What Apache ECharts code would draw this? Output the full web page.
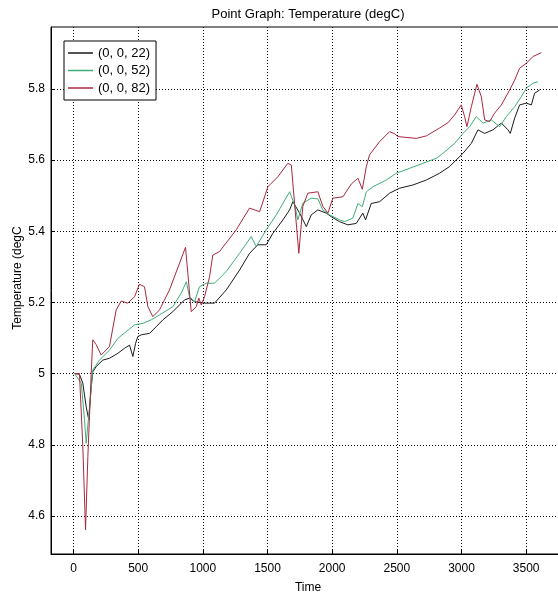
<!DOCTYPE html>
<html>
<head>
<meta charset="utf-8">
<script src="https://cdn.jsdelivr.net/npm/echarts@6/dist/echarts.min.js"></script>
<style>
  html, body { margin: 0; padding: 0; background: #fff; }
  #chart { width: 558px; height: 596px; }
</style>
</head>
<body>
<div id="chart"></div>
<script>
// Probe temperatures at three depths (z = 22, 52, 82) over time.
const seriesNames = ['(0, 0, 22)', '(0, 0, 52)', '(0, 0, 82)'];

const time22 = [8, 46, 72, 98, 118, 137, 149, 176, 227, 278, 343, 394, 433, 459, 480, 497, 524, 588, 640, 691,
  768, 858, 897, 936, 1013, 1090, 1181, 1284, 1361, 1425, 1490, 1541, 1619, 1671, 1696, 1748, 1800, 1838, 1889, 1954,
  1993, 2057, 2121, 2186, 2237, 2258, 2302, 2367, 2444, 2521, 2624, 2728, 2830, 2908, 3011, 3076, 3127, 3179, 3243, 3308,
  3359, 3377, 3411, 3449, 3501, 3540, 3565, 3604];
const temp22 = [5.000, 4.998, 4.973, 4.907, 4.870, 4.963, 5.005, 5.020, 5.038, 5.043, 5.057, 5.071, 5.080, 5.048, 5.085, 5.104, 5.109, 5.113, 5.132, 5.151,
  5.174, 5.207, 5.212, 5.202, 5.198, 5.198, 5.235, 5.291, 5.338, 5.362, 5.362, 5.394, 5.432, 5.460, 5.483, 5.451, 5.413, 5.446, 5.460, 5.451,
  5.441, 5.427, 5.418, 5.422, 5.451, 5.432, 5.478, 5.483, 5.507, 5.521, 5.530, 5.544, 5.563, 5.582, 5.619, 5.647, 5.685, 5.675, 5.685, 5.704,
  5.685, 5.675, 5.718, 5.755, 5.760, 5.755, 5.788, 5.797];

const time52 = [8, 60, 85, 98, 124, 149, 201, 278, 343, 408, 472, 536, 601, 665, 768, 833, 872, 897, 936, 974,
  1026, 1090, 1181, 1284, 1374, 1413, 1490, 1568, 1671, 1709, 1735, 1773, 1838, 1889, 1928, 1980, 2057, 2096, 2160, 2199,
  2233, 2264, 2315, 2418, 2496, 2599, 2701, 2805, 2856, 2947, 3011, 3063, 3114, 3166, 3230, 3295, 3346, 3411, 3462, 3501,
  3552, 3591];
const temp52 = [5.000, 4.973, 4.870, 4.804, 4.907, 5.010, 5.038, 5.066, 5.099, 5.118, 5.137, 5.141, 5.151, 5.165, 5.188, 5.226, 5.258, 5.216, 5.202, 5.244,
  5.254, 5.254, 5.287, 5.338, 5.385, 5.357, 5.404, 5.446, 5.511, 5.474, 5.432, 5.479, 5.493, 5.491, 5.460, 5.446, 5.432, 5.427, 5.437, 5.478,
  5.469, 5.511, 5.525, 5.544, 5.563, 5.577, 5.591, 5.605, 5.619, 5.647, 5.675, 5.694, 5.722, 5.704, 5.713, 5.694, 5.722, 5.750, 5.778, 5.802,
  5.816, 5.820];

const time82 = [8, 46, 72, 93, 111, 137, 149, 176, 214, 278, 330, 369, 420, 472, 510, 549, 575, 613, 665, 742,
  866, 884, 910, 949, 969, 988, 1013, 1052, 1077, 1129, 1258, 1361, 1439, 1503, 1580, 1657, 1684, 1709, 1742, 1773,
  1812, 1889, 1928, 1967, 2005, 2083, 2148, 2199, 2233, 2264, 2289, 2367, 2444, 2483, 2508, 2650, 2728, 2830, 2895, 2947,
  2998, 3024, 3042, 3076, 3119, 3153, 3179, 3217, 3256, 3308, 3372, 3411, 3449, 3501, 3552, 3617];
const temp82 = [5.000, 5.000, 4.795, 4.561, 4.767, 5.001, 5.095, 5.081, 5.052, 5.076, 5.179, 5.204, 5.198, 5.216, 5.251, 5.244, 5.188, 5.160, 5.179, 5.235,
  5.355, 5.282, 5.174, 5.188, 5.212, 5.193, 5.216, 5.272, 5.333, 5.343, 5.404, 5.465, 5.455, 5.525, 5.553, 5.591, 5.586, 5.479, 5.338, 5.470,
  5.507, 5.511, 5.470, 5.451, 5.493, 5.497, 5.533, 5.549, 5.518, 5.582, 5.615, 5.652, 5.680, 5.674, 5.666, 5.661, 5.668, 5.690, 5.705, 5.727,
  5.755, 5.722, 5.694, 5.750, 5.813, 5.778, 5.713, 5.708, 5.732, 5.755, 5.797, 5.825, 5.858, 5.872, 5.891, 5.902];

// Tick positions
const xTicks = [0, 500, 1000, 1500, 2000, 2500, 3000, 3500];
const yTicks = [4.6, 4.8, 5.0, 5.2, 5.4, 5.6, 5.8];

const lineColors = ['#1a1a1a', '#3fae76', '#a8283f'];
const FONT = '"Liberation Sans", Arial, Helvetica, sans-serif';

function pairs(t, v) { return t.map((x, i) => [x, v[i]]); }
const seriesData = [pairs(time22, temp22), pairs(time52, temp52), pairs(time82, temp82)];

const dotted = { color: '#000', width: 1, type: [1, 2] };

const chart = echarts.init(document.getElementById('chart'), null, { renderer: 'canvas' });
chart.setOption({
  animation: false,
  backgroundColor: '#fff',
  title: {
    text: 'Point Graph: Temperature (degC)',
    left: 308,
    textAlign: 'center',
    top: 8,
    padding: 0,
    textStyle: { fontFamily: FONT, fontSize: 13, fontWeight: 'normal', color: '#000' }
  },
  legend: {
    data: seriesNames,
    orient: 'vertical',
    left: 64,
    top: 41,
    padding: [5, 6, 5, 4],
    itemGap: 3.5,
    itemWidth: 25,
    itemHeight: 1.5,
    icon: 'rect',
    backgroundColor: '#fff',
    borderColor: '#000',
    borderWidth: 1,
    borderRadius: 0,
    textStyle: { fontFamily: FONT, fontSize: 13, lineHeight: 14, color: '#000' }
  },
  grid: {
    left: 51, top: 27, width: 514, height: 527,
    show: true, borderColor: '#000', borderWidth: 1, backgroundColor: '#fff',
    containLabel: false,
    outerBoundsMode: 'none'
  },
  xAxis: {
    type: 'value',
    min: -174,
    max: 3800,
    name: 'Time',
    nameLocation: 'middle',
    nameGap: 28,
    nameTextStyle: { fontFamily: FONT, fontSize: 12, color: '#000' },
    axisLine: { show: true, onZero: false, lineStyle: { color: '#000', width: 1 } },
    axisTick: { show: true, inside: true, length: 4, customValues: xTicks, lineStyle: { color: '#000' } },
    axisLabel: {
      customValues: xTicks, color: '#000', fontFamily: FONT, fontSize: 12, margin: 9,
      formatter: v => String(Math.round(v))
    },
    splitLine: { show: true, lineStyle: dotted }
  },
  yAxis: {
    type: 'value',
    min: 4.493,
    max: 5.974,
    axisLine: { show: true, onZero: false, lineStyle: { color: '#000', width: 1 } },
    axisTick: { show: true, inside: true, length: 4, customValues: yTicks, lineStyle: { color: '#000' } },
    axisLabel: {
      customValues: yTicks, color: '#000', fontFamily: FONT, fontSize: 12, margin: 6,
      formatter: v => String(Math.round(v * 10) / 10)
    },
    splitLine: { show: true, lineStyle: dotted }
  },
  graphic: [{
    type: 'text',
    x: 18,
    y: 278,
    rotation: Math.PI / 2,
    style: {
      text: 'Temperature (degC',
      font: '12px ' + FONT,
      fill: '#000',
      align: 'center',
      verticalAlign: 'middle'
    }
  }],
  series: seriesNames.map((name, i) => ({
    name: name,
    type: 'line',
    data: seriesData[i],
    showSymbol: false,
    symbol: 'none',
    color: lineColors[i],
    lineStyle: { width: 1, color: lineColors[i] },
    z: 2 + i
  }))
});
</script>
</body>
</html>
